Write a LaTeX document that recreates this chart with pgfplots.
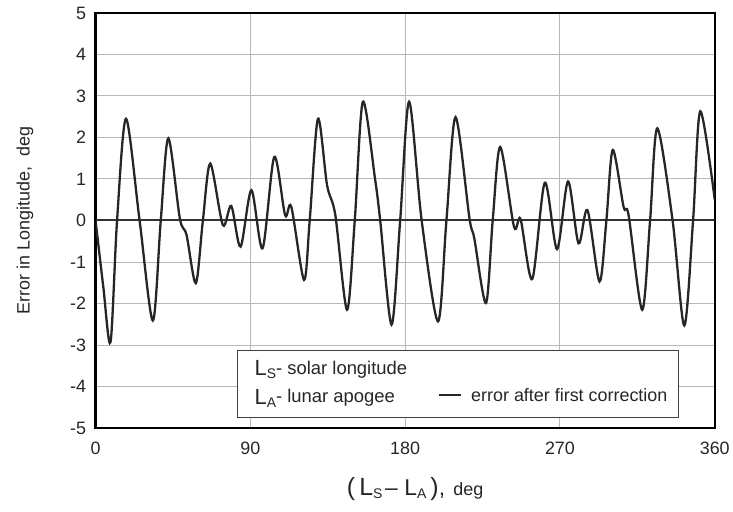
\documentclass[border=0pt]{standalone}
\usepackage{pgfplots}
\pgfplotsset{compat=1.18}
\usepackage{fontspec}
\setmainfont{Liberation Sans}
\definecolor{curve}{HTML}{262626}
\definecolor{gridc}{HTML}{B8B8B8}
\begin{document}
\begin{tikzpicture}
\begin{axis}[
  name=main,
  scale only axis, width=622pt, height=417pt,
  xmin=0, xmax=360, ymin=-5, ymax=5,
  xtick={0,90,180,270,360}, ytick={-5,-4,-3,-2,-1,0,1,2,3,4,5},
  major tick length=0pt,
  grid=major, grid style={gridc, line width=1pt},
  axis line style={line width=2.4pt, black},
  /pgf/number format/assume math mode=true,
  tick label style={font=\fontsize{18}{21}\selectfont, text=black!85},
  xticklabel style={yshift=-10pt},
  yticklabel style={xshift=-6pt},
  every axis y label/.style={at={(axis description cs:0,0.5)}, xshift=-71pt, rotate=90, anchor=center, font=\fontsize{18}{20}\selectfont, text=black!85},
  every axis x label/.style={at={(axis description cs:0.5,0)}, yshift=-61pt, xshift=10pt, anchor=center, text=black!85},
  ylabel={Error in Longitude,\ \ deg},
  xlabel={{\fontsize{25}{27}\selectfont (\,L}\raisebox{-0.55ex}{\fontsize{14}{15}\selectfont S}\ {\fontsize{23}{25}\selectfont --\ L}\raisebox{-0.55ex}{\fontsize{14}{15}\selectfont A}{\fontsize{25}{27}\selectfont \,)}{\fontsize{23}{25}\selectfont ,}\ \ \ {\fontsize{18}{20}\selectfont deg}},
  legend style={draw=none, fill=none, at={(axis description cs:0.553,0.079)}, anchor=west, font=\fontsize{18}{20}\selectfont, inner sep=0pt, text=black!85},
  legend image code/.code={\draw[line width=2.2pt, curve] (0pt,0pt) -- (22pt,0pt);},
]
\addplot[forget plot, line width=2pt, black!80] coordinates {(0,0) (360,0)};
\draw[line width=1.3pt, black!75, fill=white] (axis cs:82.6,-3.14) rectangle (axis cs:338.9,-4.75);
\node[anchor=base west, inner sep=0pt, text=black!85] at (axis cs:92.4,-3.74) {{\fontsize{22}{24}\selectfont L}\raisebox{-0.55ex}{\fontsize{14}{15}\selectfont S}\raisebox{0.3ex}{\fontsize{18.5}{20}\selectfont - solar longitude}};
\node[anchor=base west, inner sep=0pt, text=black!85] at (axis cs:92.4,-4.43) {{\fontsize{22}{24}\selectfont L}\raisebox{-0.55ex}{\fontsize{14}{15}\selectfont A}\raisebox{0.3ex}{\fontsize{18.5}{20}\selectfont - lunar apogee}};
\addplot[curve, line width=2.3pt, smooth, tension=0.5] coordinates {
(0,0) (4.5,-1.6) (8.7,-2.93) (12.5,0) (17.7,2.45) (25.6,0) (33.3,-2.41) (37.9,0) (42.3,1.98)
(49.0,0.05) (52.9,-0.35) (58.3,-1.51) (62.4,0) (66.7,1.37) (74.0,-0.11) (78.9,0.35) (84.3,-0.63)
(90.6,0.73) (97.1,-0.67) (103.9,1.53) (110.2,0.13) (113.8,0.33) (121.2,-1.43) (124.5,0) (129.3,2.45)
(134.6,0.85) (139.4,0.13) (146.2,-2.15) (150.7,0) (155.4,2.86) (162.5,1.0) (165.5,0) (172.1,-2.51)
(177.1,0) (182.3,2.86) (189.6,0) (199.1,-2.43) (204.0,0) (209.3,2.49) (217.4,0.05) (220.2,-0.43)
(227.0,-1.99) (230.9,0) (235.3,1.77) (243.3,-0.15) (247.1,0.03) (253.9,-1.41) (261.2,0.91)
(268.3,-0.69) (274.7,0.94) (280.8,-0.55) (286.0,0.25) (293.0,-1.47) (297.0,0) (300.7,1.70)
(307.0,0.33) (309.9,0.13) (317.8,-2.15) (322.4,0) (326.6,2.22) (335.5,0) (342.3,-2.53)
(347.4,0) (351.6,2.63) (360,0.5)
};
\addlegendentry{\hspace{7pt}error after first correction}
\end{axis}
\path (main.south west) ++(-96pt,-84pt) coordinate (bbA);
\path (bbA) rectangle ++(733pt,514pt);
\end{tikzpicture}
\end{document}
